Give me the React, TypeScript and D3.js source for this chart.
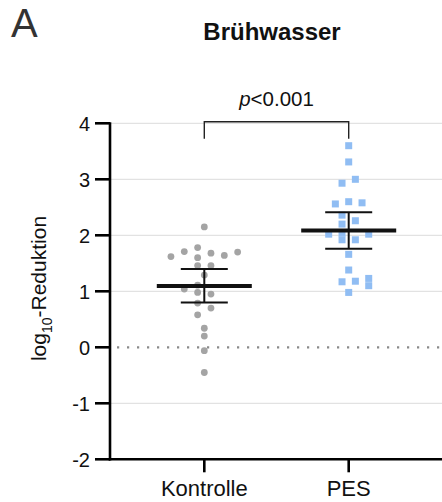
import React from "react";
import * as d3 from "d3";

// Groups on the x axis
const groups = ["Kontrolle", "PES"];

// log10 reduction per sample, with the swarm lane (in half-diameter steps) of each point
const kontrolleValues = [2.15, 1.62, 1.71, 1.78, 1.68, 1.64, 1.70, 1.60, 1.46, 1.46, 1.29, 1.11, 1.04, 0.98, 0.95, 0.79, 0.70, 0.58, 0.34, 0.20, -0.06, -0.45];
const kontrolleLanes = [0, -5, -3, -1, 1, 3, 5, -1, -1, 1, 0, -1, -3, -1, 1, -1, 1, -1, 0, 0, 0, 0];
const pesValues = [3.60, 3.31, 2.93, 3.00, 2.56, 2.60, 2.58, 2.36, 2.26, 2.20, 2.02, 2.04, 1.92, 1.92, 2.02, 1.66, 1.38, 1.17, 1.18, 1.23, 1.10, 0.98];
const pesLanes = [0, 0, -1, 1, -2, 0, 2, -1, 1, -1, -3, -1, -1, 1, 3, 0, 0, -1, 1, 3, 3, 0];

// Mean with 95% confidence interval per group
const means = [1.095, 2.085];
const ciLow = [0.80, 1.76];
const ciHigh = [1.40, 2.41];

const yTicks = [-2, -1, 0, 1, 2, 3, 4];
const pLabel = "<0.001";

const W = 442;
const H = 502;
const FONT = "'Liberation Sans', Arial, sans-serif";

export default function App() {
  const x = d3.scalePoint<string>().domain(groups).range([204.3, 348.7]).padding(0);
  const y = d3.scaleLinear().domain([-2, 4]).range([459.3, 123.3]);
  const axisX = 110;
  const laneStep = 6.67;
  const r = 3.4;
  const sq = 7;

  const kPts = kontrolleValues.map((v, i) => ({ v, lane: kontrolleLanes[i] }));
  const pPts = pesValues.map((v, i) => ({ v, lane: pesLanes[i] }));

  const x0 = x("Kontrolle")!;
  const x1 = x("PES")!;
  const bracketTop = y(4) - 1.5;

  return (
    <svg width={W} height={H} style={{ position: "absolute", left: 0, top: 0, background: "#fff" }} fontFamily={FONT}>
      {/* panel letter and title */}
      <text x={11} y={37} fontSize={40} fill="#333">A</text>
      <text x={272} y={40} fontSize={24} fontWeight="bold" textAnchor="middle" fill="#111">Brühwasser</text>

      {/* horizontal grid */}
      {yTicks.filter((t) => t !== 0 && t !== -2).map((t) => (
        <line key={t} x1={axisX} x2={W} y1={y(t)} y2={y(t)} stroke="#e2e2e2" strokeWidth={1.3} />
      ))}
      <line x1={axisX + 7} x2={W} y1={y(0)} y2={y(0)} stroke="#8a8a8a" strokeWidth={2.2}
        strokeDasharray="2.2 7.8" />

      {/* Kontrolle points */}
      {kPts.map((p, i) => (
        <circle key={i} cx={x0 + p.lane * laneStep} cy={y(p.v)} r={r} fill="#a4a4a4" />
      ))}
      {/* PES points */}
      {pPts.map((p, i) => (
        <rect key={i} x={x1 + p.lane * laneStep - sq / 2} y={y(p.v) - sq / 2} width={sq} height={sq} fill="#90bdf3" />
      ))}

      {/* mean and 95% CI */}
      {groups.map((g, i) => {
        const cx = x(g)!;
        return (
          <g key={g} stroke="#111">
            <line x1={cx} x2={cx} y1={y(ciHigh[i])} y2={y(ciLow[i])} strokeWidth={2} />
            <line x1={cx - 23.5} x2={cx + 23.5} y1={y(ciHigh[i])} y2={y(ciHigh[i])} strokeWidth={2} />
            <line x1={cx - 23.5} x2={cx + 23.5} y1={y(ciLow[i])} y2={y(ciLow[i])} strokeWidth={2} />
            <line x1={cx - 47.5} x2={cx + 47.5} y1={y(means[i])} y2={y(means[i])} strokeWidth={4} />
          </g>
        );
      })}

      {/* significance bracket */}
      <path d={`M${x0},${bracketTop + 17}V${bracketTop}H${x1}V${bracketTop + 17}`} fill="none" stroke="#222" strokeWidth={1.4} />
      <text x={(x0 + x1) / 2} y={106} fontSize={20.5} textAnchor="middle" fill="#111">
        <tspan fontStyle="italic">p</tspan>{pLabel}
      </text>

      {/* y axis */}
      <line x1={axisX} x2={axisX} y1={y(4) - 1} y2={y(-2) + 1.3} stroke="#000" strokeWidth={2.6} />
      {yTicks.map((t) => (
        <g key={t}>
          <line x1={axisX - 15} x2={axisX} y1={y(t)} y2={y(t)} stroke="#000" strokeWidth={2.6} />
          <text x={90} y={y(t)} dy="0.36em" fontSize={20} textAnchor="end" fill="#111">
            {t < 0 ? `-${Math.abs(t)}` : t}
          </text>
        </g>
      ))}

      {/* x axis */}
      <line x1={axisX - 1.3} x2={W} y1={y(-2)} y2={y(-2)} stroke="#000" strokeWidth={2.6} />
      {groups.map((g) => (
        <g key={g}>
          <line x1={x(g)!} x2={x(g)!} y1={y(-2)} y2={y(-2) + 13} stroke="#000" strokeWidth={2.6} />
          <text x={x(g)!} y={496} fontSize={22} textAnchor="middle" fill="#111">{g}</text>
        </g>
      ))}

      {/* y axis title */}
      <text transform={`translate(46,${y(1.05)}) rotate(-90)`} fontSize={21} textAnchor="middle" fill="#111">
        log<tspan fontSize={14} dy={6}>10</tspan><tspan dy={-6}>-Reduktion</tspan>
      </text>
    </svg>
  );
}
